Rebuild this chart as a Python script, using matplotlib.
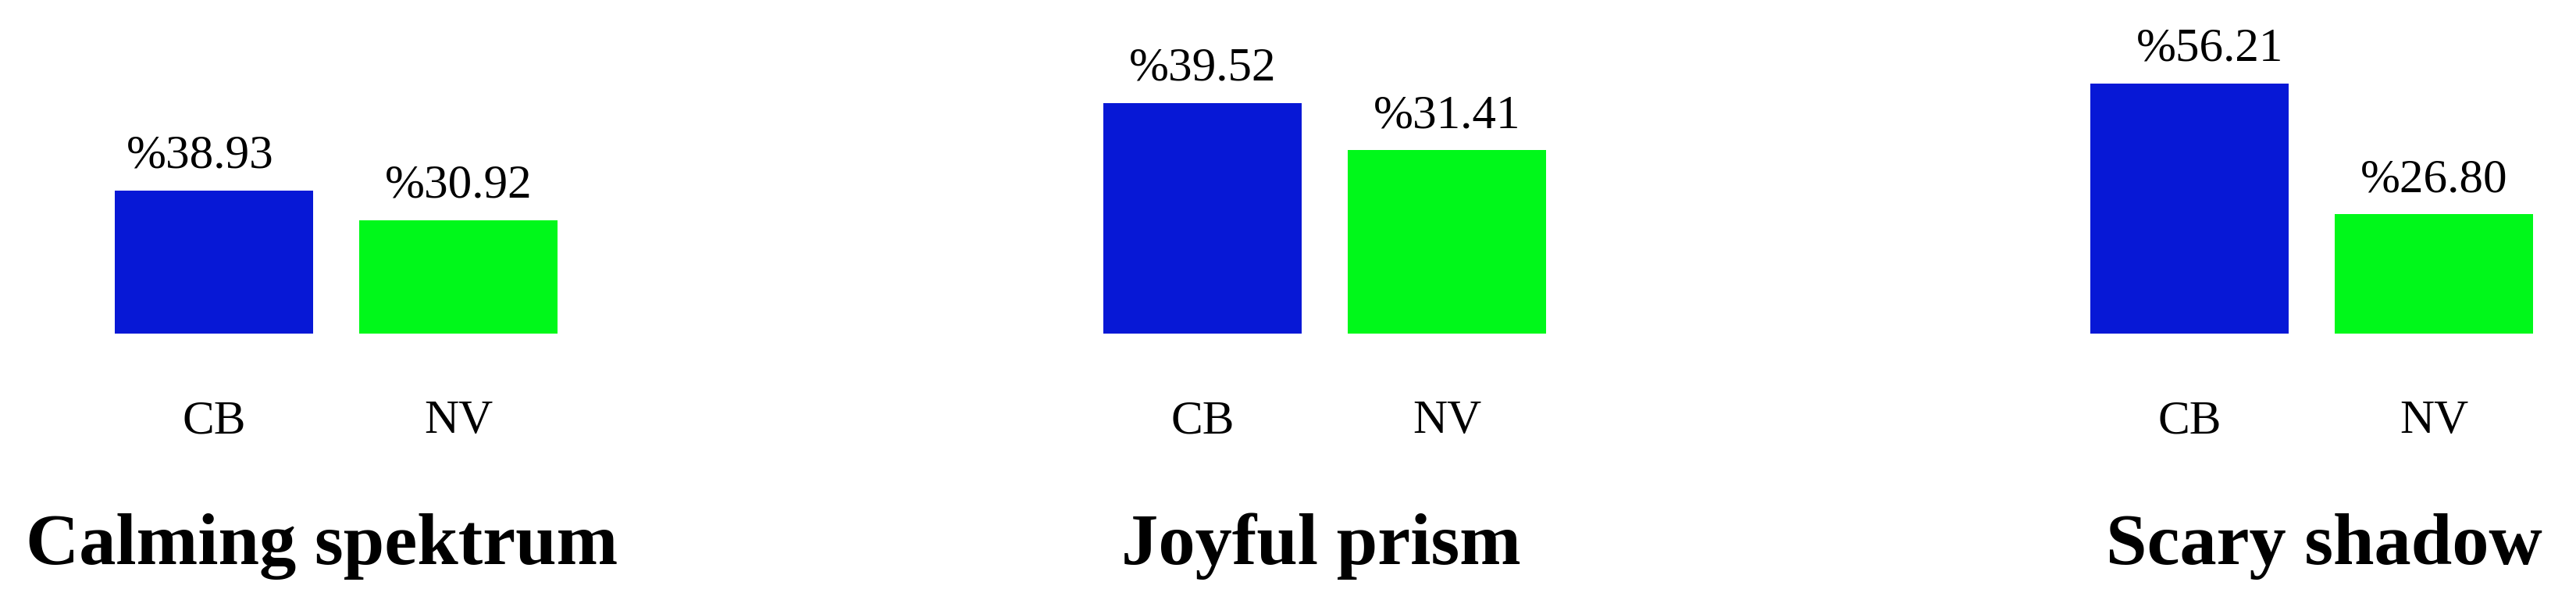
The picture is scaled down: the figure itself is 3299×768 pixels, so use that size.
import matplotlib.pyplot as plt

# data
groups = ['Calming spektrum', 'Joyful prism', 'Scary shadow']
labels = ['CB', 'NV']
cb_vals = [38.93, 39.52, 56.21]
nv_vals = [30.92, 31.41, 26.80]

colors = ['#0718d6', '#00f81a']
ymax = [86.6, 54.45, 71.4]          # each panel has its own scale
lefts = [117.5, 1383.5, 2647.5]     # axes left edge, px
title_x = [0.470, 0.493, 0.525]
# small horizontal nudges of the value labels (points), as in the original
label_dx = [[-13, 0], [0, 0], [19, 0]]

W, H = 3299, 768
fig = plt.figure(figsize=(W / 100, H / 100), dpi=100)
plt.rcParams['font.family'] = ['Liberation Serif', 'DejaVu Serif']

ax_bottom = (H - 427) / H
ax_height = 407 / H
ax_width = 626 / W

for i, name in enumerate(groups):
    ax = fig.add_axes([lefts[i] / W, ax_bottom, ax_width, ax_height])
    vals = [cb_vals[i], nv_vals[i]]
    bars = ax.bar([0, 1], vals, width=0.81, color=colors)
    for j, (b, v) in enumerate(zip(bars, vals)):
        ax.annotate('%' + f'{v:.2f}', xy=(b.get_x() + b.get_width() / 2, v),
                    xytext=(label_dx[i][j], 21), textcoords='offset points',
                    ha='center', va='baseline', fontsize=44,
                    annotation_clip=False)
    ax.set_xlim(-0.5, 1.5)
    ax.set_ylim(0, ymax[i])
    ax.set_xticks([0, 1])
    ax.set_xticklabels(labels, fontsize=44)
    ax.tick_params(axis='x', length=0, pad=61)
    ax.set_yticks([])
    for s in ax.spines.values():
        s.set_visible(False)
    ax.text(title_x[i], -0.725, name, transform=ax.transAxes,
            ha='center', va='baseline', fontsize=68, fontweight='bold')

fig.savefig('out.png', dpi=100)
